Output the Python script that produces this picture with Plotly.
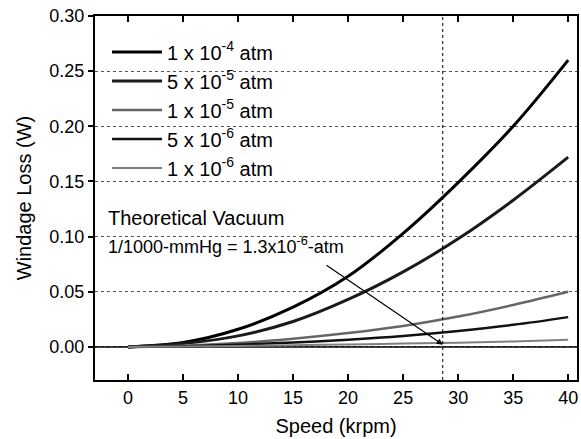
import plotly.graph_objects as go

speed = [0, 5, 10, 15, 20, 25, 30, 35, 40]
loss_1e4 = [0.0, 0.004, 0.016, 0.036, 0.064, 0.103, 0.149, 0.200, 0.260]
loss_5e5 = [0.0, 0.003, 0.010, 0.023, 0.043, 0.068, 0.098, 0.133, 0.172]
loss_1e5 = [0.0, 0.001, 0.0035, 0.0075, 0.0126, 0.019, 0.0275, 0.038, 0.050]
loss_5e6 = [0.0, 0.0005, 0.002, 0.004, 0.0066, 0.010, 0.0145, 0.020, 0.027]
loss_1e6 = [0.0, 0.0003, 0.0008, 0.0015, 0.0022, 0.003, 0.0038, 0.005, 0.0064]
labels = ["1 x 10<sup>-4</sup> atm", "5 x 10<sup>-5</sup> atm", "1 x 10<sup>-5</sup> atm",
          "5 x 10<sup>-6</sup> atm", "1 x 10<sup>-6</sup> atm"]
vacuum_x = [-3, 40.8]
vacuum_y = [0, 0]
marker_speed = 28.6
arrow_from = (17.9, 0.075)
arrow_to = (28.6, 0.002)

series = [loss_1e4, loss_5e5, loss_1e5, loss_5e6, loss_1e6]
styles = [("#000000", 3), ("#1a1a1a", 3), ("#666666", 2.5), ("#111111", 2.5), ("#808080", 2)]

fig = go.Figure()
fig.add_trace(go.Scatter(x=vacuum_x, y=vacuum_y, mode="lines", line=dict(color="black", width=1.5),
                         showlegend=False, hoverinfo="skip"))
for i, (ys, lab, (c, w)) in enumerate(zip(series, labels, styles)):
    fig.add_trace(go.Scatter(x=speed, y=ys, mode="lines", name=lab, legendgroup=str(i),
                             line=dict(color=c, width=w, shape="spline")))

fig.add_shape(type="line", x0=marker_speed, x1=marker_speed, y0=0, y1=1, yref="paper",
              line=dict(color="black", width=1, dash="dot"))

fig.add_annotation(x=arrow_to[0], y=arrow_to[1], ax=arrow_from[0], ay=arrow_from[1],
                   xref="x", yref="y", axref="x", ayref="y", text="", showarrow=True,
                   arrowhead=2, arrowsize=1, arrowwidth=1.2, arrowcolor="black")
fig.add_annotation(x=-2.0, y=0.117, xref="x", yref="y", text="Theoretical Vacuum",
                   showarrow=False, xanchor="left", font=dict(size=20, color="black"))
fig.add_annotation(x=-2.0, y=0.092, xref="x", yref="y", text="1/1000-mmHg = 1.3x10<sup>-6</sup>-atm",
                   showarrow=False, xanchor="left", font=dict(size=18, color="black"))

fig.update_layout(
    width=581, height=439,
    margin=dict(l=95, r=4, t=16, b=59),
    paper_bgcolor="white", plot_bgcolor="white",
    font=dict(family="Liberation Sans, Arial", size=18, color="black"),
    legend=dict(x=0.025, y=0.955, xanchor="left", yanchor="top", bgcolor="rgba(0,0,0,0)",
                font=dict(size=20), itemwidth=50, tracegroupgap=0),
    xaxis=dict(title=dict(text="Speed (krpm)", font=dict(size=20), standoff=12),
               automargin=False,
               range=[-3, 40.8], tickvals=[0, 5, 10, 15, 20, 25, 30, 35, 40],
               ticks="inside", ticklen=6, tickwidth=1.5, tickcolor="black",
               showline=True, linecolor="black", linewidth=2, mirror="ticks",
               showgrid=False, zeroline=False),
    yaxis=dict(title=dict(text="Windage Loss (W)", font=dict(size=20), standoff=12),
               automargin=False,
               range=[-0.03, 0.30], tickvals=[0, 0.05, 0.10, 0.15, 0.20, 0.25, 0.30],
               tickformat=".2f", ticks="outside", ticklen=5, tickwidth=1.5, tickcolor="black",
               showline=True, linecolor="black", linewidth=2, mirror=True,
               showgrid=True, gridcolor="#555555", griddash="dot", gridwidth=1,
               zeroline=False),
)

fig.write_html("out.html", config={"displayModeBar": False},
               post_script="document.body.style.margin='0';document.body.style.overflow='hidden';")
